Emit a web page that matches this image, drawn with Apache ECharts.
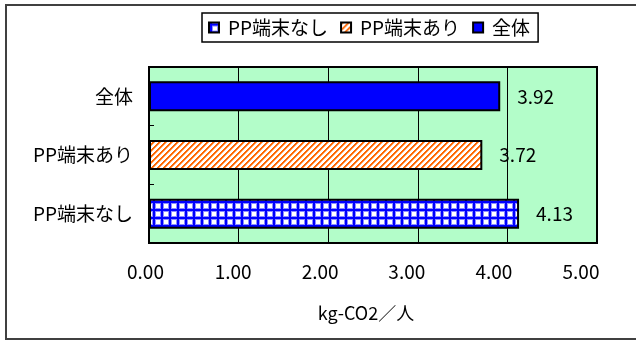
<!DOCTYPE html>
<html>
<head>
<meta charset="utf-8">
<script src="https://cdn.jsdelivr.net/npm/echarts@6/dist/echarts.min.js"></script>
<style>
  html, body { margin: 0; padding: 0; background: #fff; }
  #chart { width: 636px; height: 340px; }
</style>
</head>
<body>
<div id="chart"></div>
<script>
// Categories, bottom to top on the vertical axis
const categories = ['PP端末なし', 'PP端末あり', '全体'];
// One value per group (kg-CO2 per person)
const seriesNames = ['PP端末なし', 'PP端末あり', '全体'];
const seriesValues = [4.13, 3.72, 3.92];
// Value-axis ticks
const xTicks = [0, 1, 2, 3, 4, 5];
const axisName = 'kg-CO2／人';

const FONT = '"Noto Sans CJK JP", "Noto Sans", sans-serif';
const FS = 19;

// Blue grid (crosshatch) fill
function gridPattern() {
  const c = document.createElement('canvas');
  c.width = 8; c.height = 8;
  const g = c.getContext('2d');
  g.fillStyle = '#ffffff'; g.fillRect(0, 0, 8, 8);
  g.fillStyle = '#8c8cff';
  g.fillRect(0, 0, 1, 8); g.fillRect(3, 0, 1, 8);
  g.fillRect(0, 0, 8, 1); g.fillRect(0, 3, 8, 1);
  g.fillStyle = '#0000ff';
  g.fillRect(1, 0, 2, 8); g.fillRect(0, 1, 8, 2);
  return c;
}

// Orange diagonal stripes fill
function stripePattern() {
  const n = 6;
  const c = document.createElement('canvas');
  c.width = n; c.height = n;
  const g = c.getContext('2d');
  const img = g.createImageData(n, n);
  for (let y = 0; y < n; y++) {
    for (let x = 0; x < n; x++) {
      const k = (x + y) % n;
      const i = (y * n + x) * 4;
      let r = 255, gg = 255, b = 255;
      if (k < 2) { r = 255; gg = 102; b = 0; }
      else if (k === 2) { r = 255; gg = 170; b = 110; }
      img.data[i] = r; img.data[i + 1] = gg; img.data[i + 2] = b; img.data[i + 3] = 255;
    }
  }
  g.putImageData(img, 0, 0);
  return c;
}

const fills = [
  { image: gridPattern(), repeat: 'repeat' },
  { image: stripePattern(), repeat: 'repeat' },
  '#0000ff'
];

// Shift of each tick label to the left, in px
const labelShift = [3.5, 5.5, 8, 11, 13.5, 16];

const series = seriesNames.map((name, si) => {
  const data = categories.map((c, ci) => (ci === si ? seriesValues[si] : '-'));
  return {
    name: name,
    type: 'bar',
    stack: 'all',
    barWidth: 30,
    data: data,
    itemStyle: { color: fills[si], borderColor: '#000', borderWidth: 2 },
    label: {
      show: true,
      position: 'right',
      distance: 17,
      color: '#000',
      fontFamily: FONT,
      fontSize: FS,
      formatter: p => Number(p.value).toFixed(2)
    }
  };
});

const chart = echarts.init(document.getElementById('chart'), null, { renderer: 'canvas' });
chart.setOption({
  animation: false,
  backgroundColor: '#ffffff',
  graphic: [{
    type: 'rect',
    shape: { x: 6, y: 5, width: 640, height: 334 },
    style: { fill: 'none', stroke: '#404040', lineWidth: 2 },
    z: -1
  }],
  legend: {
    left: 202,
    top: 13,
    padding: [5, 8, 5, 6],
    itemGap: 12,
    itemWidth: 10,
    itemHeight: 10,
    icon: 'rect',
    borderColor: '#000',
    borderWidth: 1.5,
    backgroundColor: '#fff',
    textStyle: { fontFamily: FONT, fontSize: FS, color: '#000', padding: [0, 0, 0, 4] },
    data: seriesNames
  },
  grid: {
    left: 149, top: 67, right: 39, bottom: 97,
    show: true,
    backgroundColor: '#b3fdc9',
    borderColor: '#000',
    borderWidth: 2
  },
  xAxis: {
    type: 'value',
    min: xTicks[0],
    max: xTicks[xTicks.length - 1],
    interval: 1,
    axisLine: { show: false },
    axisTick: { show: false },
    splitLine: { show: true, lineStyle: { color: '#000', width: 1 } },
    axisLabel: {
      margin: 19,
      color: '#000',
      fontFamily: FONT,
      fontSize: FS,
      formatter: (v) => {
        const i = xTicks.indexOf(v);
        return '{t' + i + '|' + v.toFixed(2) + '}';
      },
      rich: Object.fromEntries(labelShift.map((s, i) => ['t' + i, {
        fontFamily: FONT, fontSize: FS, color: '#000', padding: [0, 2 * s, 0, 0]
      }]))
    },
    name: axisName,
    nameLocation: 'middle',
    nameGap: 61,
    nameTextStyle: { fontFamily: FONT, fontSize: 18, color: '#000', padding: [0, 14, 0, 0] }
  },
  yAxis: {
    type: 'category',
    data: categories,
    axisLine: { show: false },
    axisTick: { show: true, inside: true, length: 5, lineStyle: { color: '#000' } },
    axisLabel: { margin: 16, color: '#000', fontFamily: FONT, fontSize: FS },
    splitLine: { show: false }
  },
  series: series
});
</script>
</body>
</html>
